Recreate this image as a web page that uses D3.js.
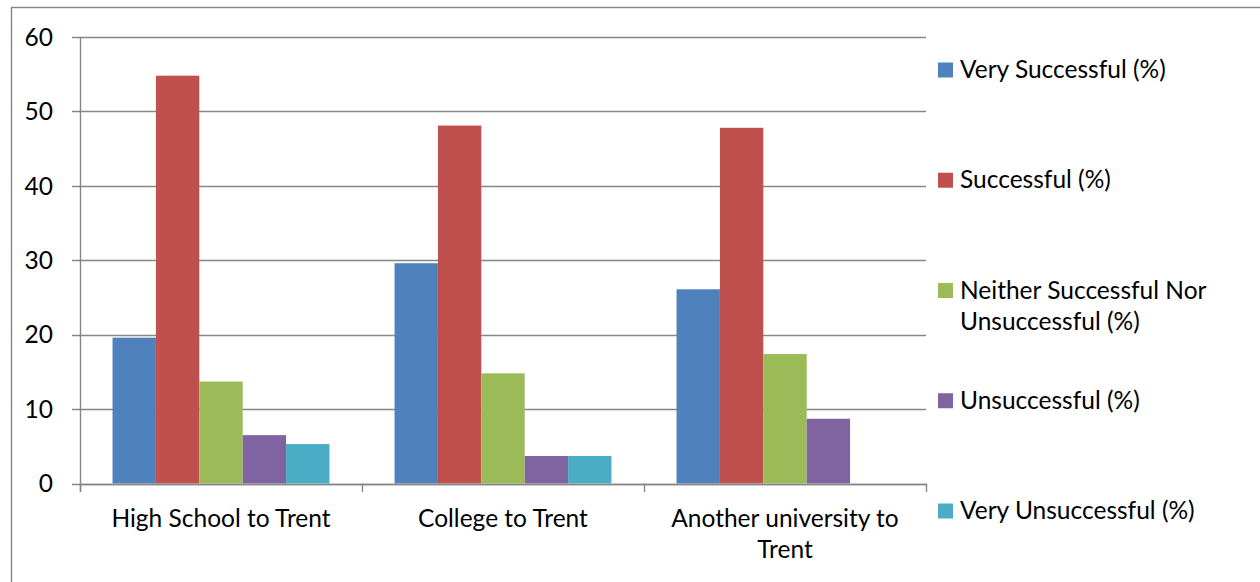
<!DOCTYPE html>
<html>
<head>
<meta charset="utf-8">
<script src="https://cdn.jsdelivr.net/npm/d3@7"></script>
<style>
  body { margin: 0; background: #fff; }
  svg { display: block; }
</style>
</head>
<body>
<div id="chart"></div>
<script>
const categories = ['High School to Trent', 'College to Trent', 'Another university to Trent'];
const seriesNames = [
  'Very Successful (%)',
  'Successful (%)',
  'Neither Successful Nor Unsuccessful (%)',
  'Unsuccessful (%)',
  'Very Unsuccessful (%)'
];
const verySuccessful = [19.6, 29.6, 26.1];
const successful = [54.8, 48.1, 47.8];
const neither = [13.7, 14.8, 17.4];
const unsuccessful = [6.5, 3.7, 8.7];
const veryUnsuccessful = [5.3, 3.7, 0];
const yTicks = [0, 10, 20, 30, 40, 50, 60];
const colors = ['#4F81BD', '#C0504D', '#9BBB59', '#8064A2', '#4BACC6'];

const seriesValues = [verySuccessful, successful, neither, unsuccessful, veryUnsuccessful];

const fontFamily = 'Lato, "Open Sans", sans-serif';
const fontSize = 24.5;
const lineColor = '#868686';

const width = 1260;
const height = 582;
const plot = { left: 80, right: 926, top: 37, bottom: 483.5 };

const svg = d3.select('#chart')
  .append('svg')
  .attr('width', width)
  .attr('height', height)
  .style('font-family', fontFamily)
  .style('font-size', fontSize + 'px');

// outer chart border (only left and top edges fall inside the picture)
svg.append('rect')
  .attr('x', 11.5)
  .attr('y', 7.5)
  .attr('width', 1400)
  .attr('height', 800)
  .attr('fill', 'none')
  .attr('stroke', lineColor)
  .attr('stroke-width', 1.4);

const y = d3.scaleLinear().domain([0, 60]).range([plot.bottom, plot.top]);
const x0 = d3.scaleBand().domain(categories).range([plot.left, plot.right]).padding(0);
const x1 = d3.scaleBand().domain(seriesNames).range([0, x0.bandwidth()])
  .paddingInner(0).paddingOuter(0.75);

// gridlines and y ticks
svg.append('g')
  .selectAll('line')
  .data(yTicks)
  .enter()
  .append('line')
  .attr('x1', plot.left - 8)
  .attr('x2', plot.right)
  .attr('y1', (d) => Math.round(y(d)) + 0.5)
  .attr('y2', (d) => Math.round(y(d)) + 0.5)
  .attr('stroke', lineColor)
  .attr('stroke-width', 1.4);

svg.append('g')
  .selectAll('text')
  .data(yTicks)
  .enter()
  .append('text')
  .attr('x', 53)
  .attr('y', (d) => y(d))
  .attr('dy', '0.36em')
  .attr('text-anchor', 'end')
  .attr('fill', '#000')
  .text((d) => d);

// bars
const groups = svg.append('g')
  .selectAll('g')
  .data(categories)
  .enter()
  .append('g')
  .attr('transform', (d) => 'translate(' + x0(d) + ',0)');

groups.selectAll('rect')
  .data((d, ci) => seriesNames.map((s, si) => ({ series: s, index: si, value: seriesValues[si][ci] })))
  .enter()
  .append('rect')
  .attr('x', (d) => x1(d.series))
  .attr('width', x1.bandwidth())
  .attr('y', (d) => y(d.value))
  .attr('height', (d) => y(0) - y(d.value))
  .attr('fill', (d) => colors[d.index]);

// axes lines
svg.append('line')
  .attr('x1', plot.left + 0.5).attr('x2', plot.left + 0.5)
  .attr('y1', plot.top).attr('y2', plot.bottom + 8.5)
  .attr('stroke', lineColor).attr('stroke-width', 1.4);

svg.append('line')
  .attr('x1', plot.left).attr('x2', plot.right)
  .attr('y1', Math.round(y(0)) + 0.5).attr('y2', Math.round(y(0)) + 0.5)
  .attr('stroke', lineColor).attr('stroke-width', 1.4);

const boundaries = categories.map((c) => x0(c)).concat([plot.right]);
svg.append('g')
  .selectAll('line')
  .data(boundaries)
  .enter()
  .append('line')
  .attr('x1', (d) => Math.round(d) + 0.5)
  .attr('x2', (d) => Math.round(d) + 0.5)
  .attr('y1', plot.bottom)
  .attr('y2', plot.bottom + 8.5)
  .attr('stroke', lineColor)
  .attr('stroke-width', 1.4);

// wrap text into lines that fit maxWidth
function wrapLines(text, maxWidth) {
  const probe = svg.append('text').attr('visibility', 'hidden');
  const words = text.split(' ');
  const lines = [];
  let line = [];
  words.forEach((w) => {
    const test = line.concat([w]).join(' ');
    probe.text(test);
    if (probe.node().getComputedTextLength() > maxWidth && line.length) {
      lines.push(line.join(' '));
      line = [w];
    } else {
      line.push(w);
    }
  });
  lines.push(line.join(' '));
  probe.remove();
  return lines;
}

const lineHeight = 31;

// category labels
categories.forEach((c) => {
  const t = svg.append('text')
    .attr('text-anchor', 'middle')
    .attr('fill', '#000');
  wrapLines(c, 255).forEach((ln, i) => {
    t.append('tspan')
      .attr('x', x0(c) + x0.bandwidth() / 2)
      .attr('y', 527 + i * lineHeight)
      .text(ln);
  });
});

// legend
const legendY = d3.scalePoint().domain(seriesNames).range([70, 511]);
const legend = svg.append('g');
seriesNames.forEach((s, i) => {
  const cy = legendY(s);
  legend.append('rect')
    .attr('x', 938)
    .attr('y', cy - 7.5)
    .attr('width', 15)
    .attr('height', 15)
    .attr('fill', colors[i]);
  const t = legend.append('text').attr('fill', '#000');
  wrapLines(s, 280).forEach((ln, li) => {
    t.append('tspan')
      .attr('x', 960)
      .attr('y', cy + 8 + li * lineHeight)
      .text(ln);
  });
});
</script>
</body>
</html>
